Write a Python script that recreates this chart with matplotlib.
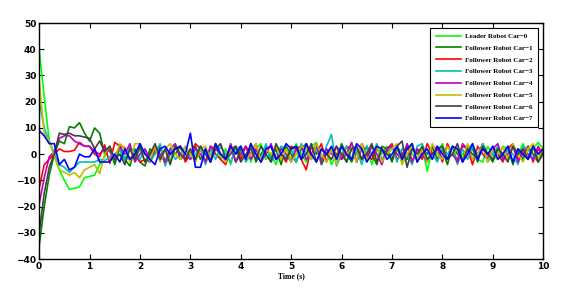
import matplotlib
matplotlib.use("Agg")
import matplotlib.pyplot as plt
import numpy as np

# time axis, 0.1 s sampling
t = np.round(np.arange(101) * 0.1, 1)

car0 = [40, 22, 5, 0, -6, -10, -13.5, -13, -12.5, -9, -8.5, -8, -4, -1, 3, -3, 2, -4, 3, -2,
        2, -3, 0, 3, -2, 2, -3, 4, 0, -2,
        2, -2, 3, -3, 0, 4, -2, 2, -4, 3,
        0, 3, -3, 2, 4, -2, 0, -4, 3, 2,
        -2, 4, 0, -3, 3, 4.5, -2, 2, -4, 0,
        3, -3, 4, 0, -2, 3, -4, 2, 0, 3,
        -2, 2, -3, 4, 0, -2, 3, -6.5, 2, 0,
        4, -2, 3, -3, 0, 2, 4, -2, -3, 3,
        0, -2, 3, 2, -3, 0, 4, -2, 2, 4.5, 2]
car1 = [-35, -20, -8, 0, 5, 4, 10.5, 10, 12, 8, 5, 10, 8, 0, 2, -4, 3, -2, -4.5, 2,
        -3, -4.5, 2, 0, 3, -3, 2, 0, 3, -2,
        0, 3, -2, 2, -3, 4, 0, -2, 3, -3,
        2, -2, 4, -3, 0, 3, -2, 2, -4, 3,
        0, -3, 2, 4, -2, 3, -4, 0, 2, -2,
        4, 0, -3, 2, -2, 3, 0, -4, 3, 2,
        -3, 3, 0, -2, 4, -3, 2, 0, 3, -2,
        2, -4, 3, 0, -2, 3, 2, -3, 4, 0,
        -3, 2, 0, 3, -4, 2, -2, 3, 0, -3, 2]
car2 = [-13, -4, -2, 0, 2, 1, 1, 1.5, 4.5, 3, 3, 0, -1, 3.5, -3.5, 4.5, 3, 2.5, -2, 0,
        -3, -2, -3, 2, 3, -4, 0, 2, 3, -3,
        0, 4, 2, -3, 3, 0, -2, -4, 2, 3,
        -2, 3, 0, 4, -3, 2, 3, -2, 0, -3,
        3, 2, -2, -6, 3, 0, 4, -3, 2, 0,
        -2, 3, 2, -3, 4, 0, -2, 3, -3, 2,
        4, -2, 0, 3, -3, 2, -2, 4, 0, 3,
        -3, 4, 0, -2, 3, 2, -4, 3, 0, -2,
        3, 0, -3, 2, 4, -2, 0, 3, -3, 2, 0]
car3 = [20, 10, 5, 0, -4, -5, -7, -5, -3, -3, -3, -3, -2, -2.5, -1, 0, 2, -2, 3, 0,
        -2, 2, -3, 0, 4, -4.5, 2, -2, 0, 3,
        -2, 0, 3, -4, 2, -2, 3, 0, -3, 2,
        3, -3, 0, 2, -2, 4, -3, 0, 3, -2,
        2, -3, 4, 0, -2, 2, -3, 3, 7.5, -4.5,
        0, 3, -2, 2, -4, 3, 0, 4, -2, 0,
        3, -3, 2, 0, -4, 3, 4, -2, 0, -3,
        2, 0, 3, -4, 2, -2, 3, 0, 4, -3,
        0, 3, -2, 2, 0, -4, 3, 2, -2, 0, 2]
car4 = [-19, -9, -1, 1, 6, 7, 7, 5, 4, 3, 3, 1, 0, 2.5, 1, -2, 3, 0, 4, -3,
        0, 2, -2, 3, 0, -3, 2, 4, -2, 0,
        -2, 2, 0, -3, 3, 2, 0, -2, 4, -3,
        0, 3, -2, 2, -3, 0, 4, -2, 2, 0,
        -3, 2, 3, -2, 0, 4, -3, 2, 0, 3,
        -2, 0, 4.5, -3, 2, -2, 3, 0, -4, 2,
        3, 0, -2, 4, -3, 2, 0, -3, 3, 2,
        -2, 3, 0, -3, 4, 2, -2, 0, 3, -2,
        2, 4, -2, 0, 3, -3, 2, 0, -2, 3, 0]
car5 = [28, 8, 5, -1, -6, -7, -8, -7, -9, -6, -5, -4, -7.5, 0, 3, -2, 4, 2, -3, 4,
        4, 0, -2, 3, -3, 2, 4, 0, -2, 3,
        0, -3, 2, 3, -2, 4, 0, -3, 2, 0,
        3, -2, 0, 4, -3, 2, 0, 3, -2, 2,
        -3, 0, 3, 2, -2, 4, 0, -3, 2, -4,
        3, 0, 2, -3, 4, -2, 0, 3, -3, 0,
        2, 4, -4, 0, 3, -2, 2, -3, 4, 0,
        -2, 3, 0, 2, -3, 4, -2, 0, 3, -3,
        2, 0, 3, -2, 4, 0, -3, 2, 4, -2, 3]
car6 = [-30, -15, -5, 0, 8, 7.5, 8, 7, 7, 6.5, 6, 2, 5, 1, 3, -2, 0, -4, 2, -2,
        3, -3, 0, 4, -2, 2, -4, 3, 0, -2,
        2, -2, 3, 0, -3, 2, 4, -2, 0, 3,
        -3, 0, 2, -2, 3, 0, -3, 4, 0, -2,
        2, 3, -2, 0, 4, -3, 2, 0, -2, 3,
        0, -3, 2, 3, -2, 0, 4, -3, 2, 0,
        -2, 3, 5, -5, 2, 0, 3, -2, 0, 2,
        3, -2, 0, 4, -3, 2, 0, -2, 3, 0,
        -2, 2, 0, -3, 3, 0, 2, -2, 3, -3, 0]
car7 = [9, 7, 4, 4, -4, -2, -6, -5, 0, -1, -1, 2, -3, -3, -3, 0, -3, 2, -2, 0,
        4, 0, -2, -4, 2, 3, 0, 2, 3, 0,
        8, -5, -5, 2, -3, 4, 0, -2, 3, 0,
        3, -2, 4, 0, -3, 2, 3, -2, 0, 4,
        2, 3, -2, 4, 0, -3, 2, 0, 3, -2,
        3, 0, -2, 4, 2, -3, 0, 3, 2, -2,
        0, 3, -2, 2, 4, -3, 0, 2, -2, 3,
        0, -2, 3, 2, -3, 0, 4, -2, 2, 0,
        3, -2, 0, 3, -3, 2, 0, -2, 3, 0, 2]

labels = ["Leader Robot Car\u22120"] + ["Follower Robot Car\u2212%d" % i for i in range(1, 8)]
series = [car0, car1, car2, car3, car4, car5, car6, car7]
colors = ["#00ff00", "#008000", "#ff0000", "#00bfbf", "#bf00bf", "#bfbf00", "#404040", "#0000ff"]

fig = plt.figure(figsize=(5.76, 2.92), dpi=100)
ax = fig.add_axes([0.068, 0.113, 0.875, 0.808])

for y, c, lab in zip(series, colors, labels):
    ax.plot(t, y, color=c, lw=1.2, label=lab)

ax.set_xlim(0, 10)
ax.set_ylim(-40, 50)
ax.set_xticks(range(0, 11))
ax.set_yticks(range(-40, 51, 10))
ax.tick_params(direction="in", length=3.5, width=0.8, top=True, right=True,
               labelsize=6.5, pad=2)
for lbl in ax.get_xticklabels() + ax.get_yticklabels():
    lbl.set_fontweight("bold")
ax.yaxis.set_major_formatter(matplotlib.ticker.FuncFormatter(
    lambda v, p: ("\u2212%d" % -v) if v < 0 else "%d" % v))
for s in ax.spines.values():
    s.set_linewidth(1.0)

ax.set_xlabel("Time (s)", family="Liberation Serif", fontweight="bold",
              fontsize=5.5, labelpad=1)

leg = ax.legend(loc="upper right", bbox_to_anchor=(0.997, 0.995),
                prop={"family": "Liberation Serif", "weight": "bold", "size": 5},
                fancybox=False, framealpha=1, edgecolor="black",
                handlelength=3.6, labelspacing=0.85, borderpad=0.8,
                handletextpad=0.6)
leg.get_frame().set_linewidth(0.8)

fig.savefig("out.png", dpi=100)
